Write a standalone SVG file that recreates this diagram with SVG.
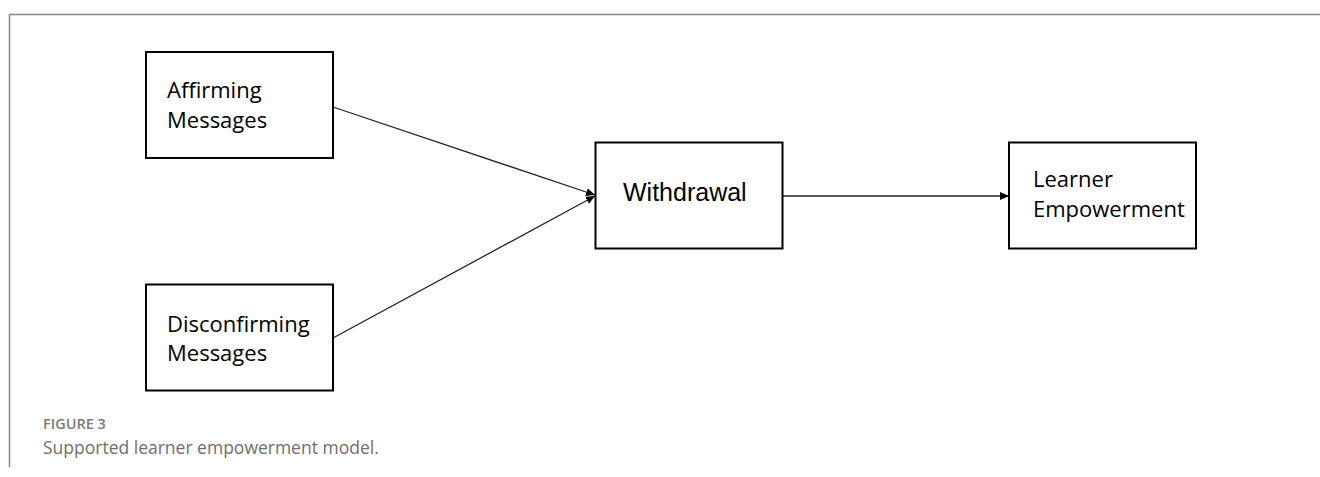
<svg xmlns="http://www.w3.org/2000/svg" width="1320" height="477" viewBox="0 0 1320 477">
<defs>
<style>
.box{fill:#fff;stroke:#000;stroke-width:2}
.lbl{font-family:"Open Sans","Noto Sans",sans-serif;font-size:22px;fill:#000}
.lbl2{font-family:"Liberation Sans",Arial,sans-serif;font-size:25px;fill:#000}
.edge{stroke:#222;stroke-width:1.3;fill:none}
</style>
<marker id="ah" markerWidth="10" markerHeight="8" refX="9" refY="4" orient="auto" markerUnits="userSpaceOnUse">
<path d="M0,0 L9,4 L0,8 Z" fill="#000"/>
</marker>
</defs>
<rect width="1320" height="477" fill="#fff"/>
<path d="M9.5,467 V14.5 H1320" fill="none" stroke="#888" stroke-width="1.5"/>
<g id="connectors">
<line class="edge" x1="333" y1="107" x2="595" y2="195" marker-end="url(#ah)"/>
<line class="edge" x1="333" y1="338" x2="595" y2="196" marker-end="url(#ah)"/>
<line class="edge" x1="782" y1="196" x2="1009" y2="196" marker-end="url(#ah)"/>
</g>
<g id="affirming">
<rect class="box" x="146" y="52" width="187" height="106"/>
<text class="lbl" x="167" y="98">Affirming</text>
<text class="lbl" x="167" y="128">Messages</text>
</g>
<g id="disconfirming">
<rect class="box" x="146" y="284.5" width="187" height="106"/>
<text class="lbl" x="167" y="332">Disconfirming</text>
<text class="lbl" x="167" y="361">Messages</text>
</g>
<g id="withdrawal">
<rect class="box" x="595.5" y="142.5" width="187" height="106"/>
<text class="lbl2" x="623" y="201">Withdrawal</text>
</g>
<g id="learner">
<rect class="box" x="1009" y="142.5" width="187" height="106"/>
<text class="lbl" x="1033" y="187">Learner</text>
<text class="lbl" x="1033" y="217">Empowerment</text>
</g>
<g id="caption">
<text x="43" y="429" font-family="'Open Sans','Noto Sans',sans-serif" font-size="14.5" font-weight="600" fill="#7a7a7a">FIGURE 3</text>
<text x="43" y="454" font-family="'Open Sans','Noto Sans',sans-serif" font-size="17.5" fill="#6e6e6e">Supported learner empowerment model.</text>
</g>
</svg>
